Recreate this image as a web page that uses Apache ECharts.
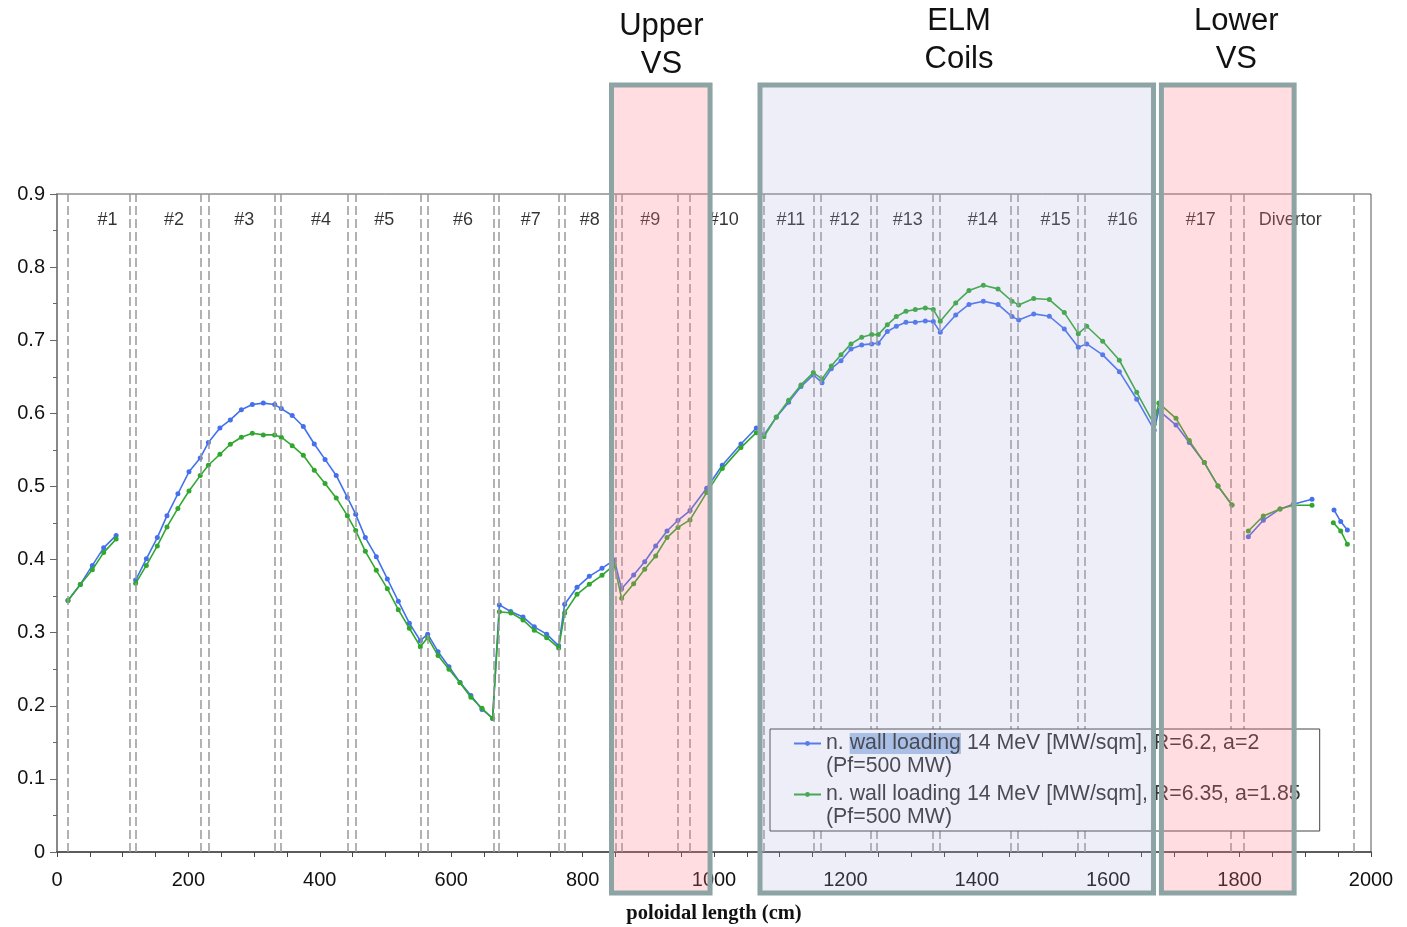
<!DOCTYPE html>
<html><head><meta charset="utf-8">
<script src="https://cdn.jsdelivr.net/npm/echarts@6/dist/echarts.min.js"></script>
<style>html,body{margin:0;padding:0;background:#fff}#c{width:1407px;height:927px}</style>
</head><body><div id="c"></div>
<script>
// ---------- data ----------
const GAP = '-';
const blueName = 'n. wall loading 14 MeV [MW/sqm], R=6.2, a=2\n(Pf=500 MW)';
const greenName = 'n. wall loading 14 MeV [MW/sqm], R=6.35, a=1.85\n(Pf=500 MW)';

const blueR62 = [
  [16.7,0.344],[35.5,0.366],[53.8,0.392],[71,0.416],[90,0.433],
  [105,GAP],
  [119.7,0.372],[136,0.401],[152.7,0.430],[167.4,0.460],[184,0.490],[200.9,0.520],[218,0.539],[230.4,0.560],
  [248,0.580],[263.8,0.591],[280.6,0.605],[297.3,0.612],[314,0.614],[331.3,0.612],[341.4,0.6065],[358,0.597],
  [374.9,0.582],[391.6,0.558],[408,0.537],[425,0.515],[441.9,0.485],[454.6,0.462],[469.3,0.430],[486,0.404],
  [502.8,0.3735],[519.5,0.343],[536.3,0.313],[553,0.289],[564.2,0.298],[580,0.274],[596.6,0.2535],[613.4,0.232],
  [630,0.214],[646.9,0.195],[663,0.183],[673.3,0.338],[690.5,0.329],[709.3,0.3215],[726.5,0.308],[745.3,0.298],
  [763.6,0.282],[772.7,0.339],[791.5,0.362],[810.2,0.377],[829.5,0.388],[848.2,0.3995],[859.4,0.360],[877.7,0.379],
  [894.5,0.397],[911.2,0.4186],[928.5,0.439],[945.2,0.4537],[963.5,0.467],[988.8,0.4975],[1012.6,0.529],[1041,0.558],
  [1064.4,0.580],[1076,0.5705],[1094.8,0.5946],[1113.6,0.615],[1132.4,0.6366],[1151.2,0.6525],[1164.4,0.642],
  [1178.5,0.661],[1193.3,0.672],[1208.5,0.688],[1224.8,0.6936],[1240,0.695],[1250,0.696],[1263.8,0.712],
  [1277.5,0.719],[1292.2,0.7246],[1306.4,0.7246],[1321.6,0.7264],[1333.8,0.7255],[1344.4,0.711],[1367.9,0.7346],
  [1388.1,0.749],[1410,0.7533],[1432.3,0.749],[1453.6,0.7323],[1463.8,0.7278],[1486.6,0.736],[1510.4,0.7328],
  [1533.2,0.7155],[1554.5,0.6904],[1567.3,0.695],[1591.6,0.680],[1617,0.657],[1643.4,0.6193],[1670,0.577],
  [1677,0.604],[1703.2,0.584],[1723.4,0.560],[1746.3,0.5326],[1767.1,0.5007],[1788.4,0.4747],
  [1800,GAP],
  [1813.3,0.4313],[1836.1,0.4537],[1861.5,0.4692],[1881.7,0.4756],[1910.2,0.4825],
  [1925,GAP],
  [1943.7,0.4679],[1953.9,0.4519],[1964,0.4405]
];

const greenR635 = [
  [16.7,0.344],[35.5,0.366],[53.8,0.386],[71,0.4095],[90,0.428],
  [105,GAP],
  [119.7,0.3675],[136,0.392],[152.7,0.4186],[167.4,0.4446],[184,0.470],[200.9,0.4938],[218,0.5148],[230.4,0.529],
  [248,0.544],[263.8,0.5577],[280.6,0.5673],[297.3,0.5727],[314,0.5705],[331.3,0.5705],[341.4,0.5673],[358,0.5558],
  [374.9,0.5426],[391.6,0.5221],[408,0.5039],[425,0.4843],[441.9,0.460],[454.6,0.4396],[469.3,0.4113],[486,0.3853],
  [502.8,0.3602],[519.5,0.3315],[536.3,0.306],[553,0.2809],[564.2,0.2932],[580,0.2686],[596.6,0.250],[613.4,0.2316],
  [630,0.2116],[646.9,0.1966],[663,0.1825],[673.3,0.3287],[691,0.327],[709.3,0.3174],[726.5,0.3032],[745.3,0.2932],
  [763.6,0.2791],[772.7,0.327],[791.5,0.3525],[810.2,0.3662],[829.5,0.3784],[848.2,0.3926],[859.4,0.347],[877.7,0.367],
  [894.5,0.3867],[911.2,0.4049],[928.5,0.430],[945.2,0.444],[963.5,0.4542],[988.8,0.4916],[1012.6,0.5244],[1041,0.5531],
  [1064.4,0.5736],[1076,0.568],[1094.8,0.595],[1113.6,0.6179],[1132.4,0.6389],[1151.2,0.6557],[1164.4,0.647],
  [1178.5,0.6648],[1193.3,0.680],[1208.5,0.695],[1224.8,0.704],[1240,0.7077],[1250,0.7077],[1263.8,0.721],
  [1277.5,0.7323],[1292.2,0.7397],[1306.4,0.7419],[1321.6,0.7442],[1333.8,0.7419],[1344.4,0.726],[1367.9,0.751],
  [1388.1,0.7679],[1410,0.7752],[1432.3,0.7702],[1453.6,0.7533],[1463.8,0.7483],[1486.6,0.757],[1510.4,0.7556],
  [1533.2,0.7378],[1554.5,0.709],[1567.3,0.7191],[1591.6,0.6986],[1617,0.6726],[1643.4,0.6288],[1670,0.585],
  [1677,0.614],[1703.2,0.5932],[1723.4,0.5627],[1746.3,0.5326],[1767.1,0.5007],[1788.4,0.4747],
  [1800,GAP],
  [1813.3,0.4391],[1836.1,0.4596],[1861.5,0.4692],[1881.7,0.4742],[1910.2,0.4742],
  [1925,GAP],
  [1942.6,0.4505],[1953.9,0.4391],[1964,0.421]
];

const sectionNames = ['#1','#2','#3','#4','#5','#6','#7','#8','#9','#10','#11','#12','#13','#14','#15','#16','#17','Divertor'];
const sectionLabelX = [77,178,285,402,498,618,721,811,903,1015,1117,1199,1295,1409,1520,1622,1741,1877];
const boundaryX = [16.7,110,120,219,231,331,341,443,454,554,565,665,673,764,773,851,859,945,963,1075,
  1152,1163,1238,1248,1333,1343,1452,1462,1553,1565,1787,1806,1974];

const regionNames = ['Upper\nVS','ELM\nCoils','Lower\nVS'];
const regionStart = [844,1070,1681];
const regionEnd = [994,1669,1883];
const regionTextX = [920,1373,1795];

const X_MIN = 0, X_MAX = 2000, X_STEP = 200;
const Y_MIN = 0, Y_MAX = 0.9, Y_STEP = 0.1;

// ---------- layout / style ----------
const FONT = 'Liberation Sans, Arial, sans-serif';
const LABEL_Y = 0.8645;
const BOX_TOP = 85, BOX_BOTTOM = 893;
const regionFill = ['rgba(255,120,130,0.25)','rgba(170,170,225,0.2)','rgba(255,120,130,0.25)'];
const regionTextTop = [7, 2, 2];
const BLUE = '#4470EE', GREEN = '#30A830';

const chart = echarts.init(document.getElementById('c'), null, {renderer:'canvas'});

const legendFormatter = function (name) {
  const lines = name.split('\n');
  let first = lines[0];
  if (name === blueName) first = first.replace('wall loading', '}{h|wall loading}{t|');
  return '{t|' + first + '}\n{t|' + lines[1] + '}';
};

const option = {
  animation: false,
  grid: {left: 57, right: 36, top: 194, bottom: 75, show: true, borderColor: '#555', borderWidth: 1,
    containLabel: false, outerBoundsMode: 'none'},
  xAxis: {
    type: 'value', min: X_MIN, max: X_MAX, interval: X_STEP,
    name: 'poloidal length (cm)', nameLocation: 'middle', nameGap: 51,
    nameTextStyle: {fontFamily: 'Liberation Serif, Times New Roman, serif', fontWeight: 'bold', fontSize: 20.5, color: '#111'},
    axisLine: {lineStyle: {color: '#444', width: 1.5}},
    axisTick: {show: true, inside: false, length: 5, lineStyle: {color: '#444'}},
    minorTick: {show: true, splitNumber: 4, length: 5, lineStyle: {color: '#444'}},
    splitLine: {show: false},
    axisLabel: {fontSize: 20, fontFamily: FONT, color: '#111', margin: 18, formatter: v => String(v)}
  },
  yAxis: {
    type: 'value', min: Y_MIN, max: Y_MAX, interval: Y_STEP,
    axisLine: {show: true, lineStyle: {color: '#888', width: 2}},
    axisTick: {show: true, length: 7, lineStyle: {color: '#666'}},
    minorTick: {show: true, splitNumber: 2, length: 4, lineStyle: {color: '#666'}},
    splitLine: {show: false},
    axisLabel: {fontSize: 20, fontFamily: FONT, color: '#111', margin: 12,
      formatter: v => (Math.round(v * 10) / 10).toString()}
  },
  legend: {
    z: 50,
    data: [blueName, greenName],
    orient: 'vertical', left: 770, top: 729,
    itemWidth: 27, itemHeight: 6, itemGap: 7,
    padding: [4, 19, 3, 23],
    backgroundColor: '#fff', borderColor: '#444', borderWidth: 1,
    formatter: legendFormatter,
    textStyle: {
      padding: [23, 0, 0, 0],
      rich: {
        t: {fontSize: 21.3, lineHeight: 23, fontFamily: FONT, color: '#333'},
        h: {fontSize: 21.3, lineHeight: 23, fontFamily: FONT, color: '#333', backgroundColor: '#A9C5E8'}
      }
    }
  },
  series: [
    {
      name: 'sections', type: 'scatter', z: 1, silent: true,
      data: sectionNames.map((n, i) => ({name: n, value: [sectionLabelX[i], LABEL_Y]})),
      symbolSize: 0,
      label: {show: true, position: 'inside', formatter: '{b}', fontSize: 18, fontFamily: FONT, color: '#000'},
      markLine: {
        silent: true, symbol: ['none', 'none'],
        label: {show: false},
        lineStyle: {type: [9, 4], color: '#999', width: 1.5},
        data: boundaryX.map(x => ({xAxis: x}))
      }
    },
    {
      name: blueName, type: 'line', z: 3, data: blueR62, connectNulls: false,
      symbol: 'circle', symbolSize: 5, showSymbol: true,
      lineStyle: {color: BLUE, width: 1.6}, itemStyle: {color: BLUE}
    },
    {
      name: greenName, type: 'line', z: 4, data: greenR635, connectNulls: false,
      symbol: 'circle', symbolSize: 5, showSymbol: true,
      lineStyle: {color: GREEN, width: 1.6}, itemStyle: {color: GREEN}
    }
  ]
};
chart.setOption(option);

const px = v => chart.convertToPixel({xAxisIndex: 0}, v);
const graphics = [];
regionNames.forEach((n, i) => {
  const x0 = px(regionStart[i]), x1 = px(regionEnd[i]);
  graphics.push({type: 'rect', z: 100, silent: true,
    shape: {x: x0, y: BOX_TOP, width: x1 - x0, height: BOX_BOTTOM - BOX_TOP},
    style: {fill: regionFill[i], stroke: '#8DA4A4', lineWidth: 5}});
  graphics.push({type: 'text', z: 101, silent: true, x: px(regionTextX[i]), y: regionTextTop[i],
    style: {text: n, fontSize: 31, fontFamily: FONT, fill: '#111', align: 'center', verticalAlign: 'top', lineHeight: 38}});
});
chart.setOption({graphic: graphics});
</script>
</body></html>
